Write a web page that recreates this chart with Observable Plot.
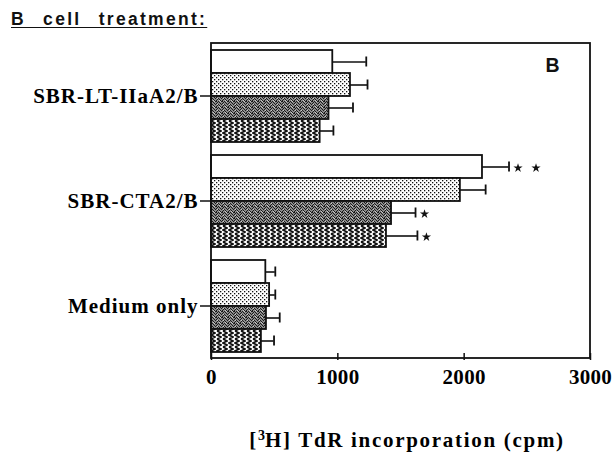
<!DOCTYPE html>
<html>
<head>
<meta charset="utf-8">
<script src="https://cdn.jsdelivr.net/npm/d3@7"></script>
<script src="https://cdn.jsdelivr.net/npm/@observablehq/plot@0.6"></script>
<style>
  html, body { margin: 0; padding: 0; background: white; }
  #wrap { width: 614px; height: 453px; position: relative; background: white; }
  #title {
    height: 36px; box-sizing: border-box; padding: 11px 0 0 11px;
    font-family: "Liberation Sans", Arial, sans-serif; font-weight: bold; font-size: 17.5px;
    line-height: 17px; letter-spacing: 2.3px; word-spacing: 10px; text-decoration: underline;
    text-underline-offset: 2px; color: #111;
  }
  #caption {
    position: absolute; top: 428px; left: 200px; width: 414px; height: 24px; text-align: center;
    font-family: "Liberation Serif", "Times New Roman", serif; font-weight: bold; font-size: 21px;
    line-height: 24px; letter-spacing: 1.7px; color: #000; white-space: nowrap;
  }
  #caption .sup { font-size: 14px; vertical-align: 7px; letter-spacing: 0; line-height: 0; }
</style>
</head>
<body>
<div id="wrap">
  <div id="title">B cell treatment:</div>
  <div id="chart"></div>
  <div id="caption">[<span class="sup">3</span>H] TdR incorporation (cpm)</div>
</div>
<script>
// ---- data ----
const groups = ["SBR-LT-IIaA2/B", "SBR-CTA2/B", "Medium only"];
const series = ["Bar 1", "Bar 2", "Bar 3", "Bar 4"];
const ltValues = [960, 1100, 930, 860];
const ltErrors = [1225, 1235, 1120, 965];
const ctaValues = [2145, 1970, 1425, 1385];
const ctaErrors = [2355, 2170, 1615, 1630];
const mediumValues = [430, 460, 435, 395];
const mediumErrors = [505, 505, 540, 495];
const ltSig = ["", "", "", ""];
const ctaSig = ["**", "", "*", "*"];
const mediumSig = ["", "", "", ""];
const xTicks = [0, 1000, 2000, 3000];
const panelLabel = "B";

// ---- build table ----
const groupValues = [ltValues, ctaValues, mediumValues];
const groupErrors = [ltErrors, ctaErrors, mediumErrors];
const groupSig = [ltSig, ctaSig, mediumSig];
const patternFor = {
  "Bar 1": "white",
  "Bar 2": "url(#p-dots)",
  "Bar 3": "url(#p-dark)",
  "Bar 4": "url(#p-zig)"
};
const data = [];
groups.forEach((g, gi) => series.forEach((s, si) => data.push({
  group: g, series: s, value: groupValues[gi][si], err: groupErrors[gi][si],
  sig: groupSig[gi][si], fill: patternFor[s]
})));
const sig1 = data.filter(d => d.sig.length >= 1);
const sig2 = data.filter(d => d.sig.length >= 2);

const W = 614, H = 364, mL = 211, mR = 24, mT = 7, mB = 42;
const serif = "Liberation Serif, Times New Roman, serif";

const plot = Plot.plot({
  width: W, height: H,
  marginLeft: mL, marginRight: mR, marginTop: mT, marginBottom: mB,
  style: { background: "white", fontFamily: serif, color: "#000" },
  x: { domain: [0, 3000], label: null },
  y: { domain: series, padding: 0, axis: null, label: null },
  fy: { domain: groups, paddingInner: 0.1, paddingOuter: 0.045, label: null },
  color: { type: "identity" },
  marks: [
    Plot.barX(data, {
      fy: "group", y: "series", x: "value", fill: "fill",
      stroke: "#111", strokeWidth: 1.8
    }),
    Plot.ruleY(data, {
      fy: "group", y: "series", x1: "value", x2: "err",
      stroke: "#111", strokeWidth: 1.6
    }),
    Plot.tickX(data, {
      fy: "group", y: "series", x: "err",
      stroke: "#111", strokeWidth: 1.8, insetTop: 6.5, insetBottom: 6.5
    }),
    Plot.dot(sig1, {
      fy: "group", y: "series", x: "err", symbol: "star", r: 2.9,
      dx: 9, dy: 1, fill: "#111", stroke: "none"
    }),
    Plot.dot(sig2, {
      fy: "group", y: "series", x: "err", symbol: "star", r: 2.9,
      dx: 27, dy: 1, fill: "#111", stroke: "none"
    }),
    Plot.text([panelLabel], {
      fy: () => groups[0], frameAnchor: "top-right", textAnchor: "middle", lineAnchor: "middle",
      dx: -38, dy: 17.5, fontSize: 19.5, fontWeight: "bold",
      fontFamily: "Liberation Sans, Arial, sans-serif", fill: "#111"
    }),
    Plot.axisX({
      ticks: xTicks, tickFormat: d3.format("d"), tickSize: 7, tickPadding: 9,
      fontSize: 21, fontWeight: "bold", fontFamily: serif, label: null,
      stroke: "#111", strokeWidth: 1.5
    }),
    Plot.axisFy({
      anchor: "left", tickSize: 11, tickPadding: 2,
      fontSize: 21, fontWeight: "bold", fontFamily: serif, label: null,
      stroke: "#111", strokeWidth: 1.5
    })
  ]
});

document.getElementById("chart").appendChild(plot);

// pattern definitions
const svg = d3.select(plot);
const defs = svg.insert("defs", ":first-child");
const dots = defs.append("pattern").attr("id", "p-dots").attr("patternUnits", "userSpaceOnUse")
  .attr("width", 4).attr("height", 4);
dots.append("rect").attr("width", 4).attr("height", 4).attr("fill", "white");
dots.append("rect").attr("x", 0).attr("y", 0).attr("width", 1.3).attr("height", 1.3).attr("fill", "#111");
dots.append("rect").attr("x", 2).attr("y", 2).attr("width", 1.3).attr("height", 1.3).attr("fill", "#111");

const dark = defs.append("pattern").attr("id", "p-dark").attr("patternUnits", "userSpaceOnUse")
  .attr("width", 6).attr("height", 6);
dark.append("rect").attr("width", 6).attr("height", 6).attr("fill", "#8a8a8a");
[[0,0],[2,0],[5,0],[1,1],[3,1],[4,2],[0,2],[2,3],[5,3],[1,4],[3,4],[0,5],[4,5]].forEach(([x, y]) =>
  dark.append("rect").attr("x", x).attr("y", y).attr("width", 1).attr("height", 1).attr("fill", "#1a1a1a"));
[[4,0],[1,3],[3,5]].forEach(([x, y]) =>
  dark.append("rect").attr("x", x).attr("y", y).attr("width", 1).attr("height", 1).attr("fill", "#c8c8c8"));

const zig = defs.append("pattern").attr("id", "p-zig").attr("patternUnits", "userSpaceOnUse")
  .attr("width", 6).attr("height", 8);
zig.append("rect").attr("width", 6).attr("height", 8).attr("fill", "white");
zig.append("path").attr("d", "M1,0 L5,2 L1,4 L5,6 L1,8")
  .attr("fill", "none").attr("stroke", "#111").attr("stroke-width", 1.6);

// outer frame around the whole plotting area
svg.append("rect")
  .attr("x", mL).attr("y", mT).attr("width", W - mL - mR).attr("height", H - mT - mB)
  .attr("fill", "none").attr("stroke", "#111").attr("stroke-width", 1.8);

svg.selectAll('g[aria-label="fy-axis tick label"] text').style("letter-spacing", "1px");
svg.selectAll('g[aria-label="x-axis tick label"] text').style("letter-spacing", "0.3px");
</script>
</body>
</html>
